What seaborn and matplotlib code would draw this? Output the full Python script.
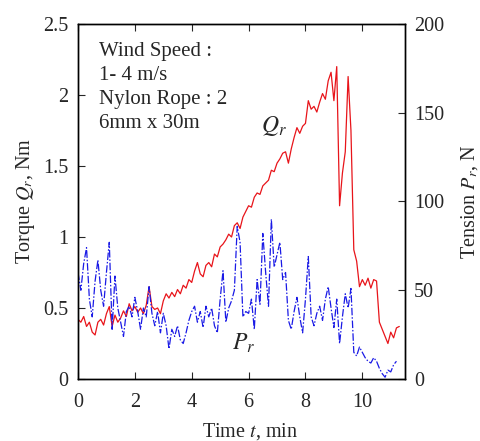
import numpy as np
import pandas as pd
import matplotlib
matplotlib.use('Agg')
import matplotlib.pyplot as plt
import seaborn as sns

# Q_r torque (Nm), sampled every 0.1 min
t_q = np.round(np.arange(0, 11.35, 0.1), 1)
torque = [0.42, 0.40, 0.44, 0.37, 0.40, 0.33, 0.31, 0.40, 0.42, 0.38,
          0.46, 0.51, 0.37, 0.45, 0.40, 0.43, 0.48, 0.44, 0.53, 0.48,
          0.51, 0.47, 0.50, 0.46, 0.52, 0.65, 0.51, 0.49, 0.50, 0.46,
          0.55, 0.60, 0.57, 0.61, 0.58, 0.63, 0.60, 0.66, 0.64, 0.70,
          0.68, 0.76, 0.82, 0.74, 0.72, 0.80, 0.82, 0.79, 0.88, 0.86,
          0.93, 0.95, 0.98, 1.02, 1.00, 1.08, 1.10, 1.06, 1.14, 1.18,
          1.22, 1.21, 1.28, 1.31, 1.30, 1.36, 1.38, 1.40, 1.47, 1.46,
          1.52, 1.55, 1.59, 1.60, 1.52, 1.62, 1.70, 1.77, 1.73, 1.78,
          1.80, 1.96, 1.90, 1.92, 1.88, 1.95, 2.01, 1.97, 2.10, 2.16,
          1.96, 2.20, 1.22, 1.45, 1.60, 2.13, 1.75, 0.91, 0.83, 0.65,
          0.70, 0.66, 0.71, 0.64, 0.70, 0.69, 0.40, 0.35, 0.30, 0.25,
          0.33, 0.29, 0.36, 0.37]

# P_r tension (N), sampled every 0.1 min
t_p = np.round(np.arange(0, 11.25, 0.1), 1)
tension = [60, 50, 65, 74, 45, 35, 55, 67, 50, 41,
           60, 77, 28, 58, 40, 32, 24, 38, 41, 35,
           46, 38, 28, 40, 35, 52, 37, 30, 38, 26,
           37, 30, 17, 28, 24, 30, 22, 20, 26, 33,
           38, 41, 32, 38, 29, 41, 35, 40, 30, 26,
           45, 61, 32, 40, 44, 50, 86, 77, 35, 38,
           37, 45, 28, 56, 42, 82, 60, 41, 90, 63,
           70, 77, 56, 60, 33, 28, 38, 46, 35, 26,
           45, 69, 35, 30, 37, 41, 33, 45, 52, 40,
           29, 45, 20, 35, 48, 40, 51, 15, 13, 18,
           15, 12, 10, 9, 12, 10, 6, 3, 1, 5,
           4, 8, 10]

df_q = pd.DataFrame({'t': t_q, 'Q': torque})
df_p = pd.DataFrame({'t': t_p, 'P': tension})

sns.set_style('ticks')
plt.rcParams['font.family'] = ['Liberation Serif', 'DejaVu Serif']
plt.rcParams['mathtext.fontset'] = 'stix'
plt.rcParams['font.size'] = 14

fig = plt.figure(figsize=(4.8, 4.41), dpi=100)
ax = fig.add_axes([0.1625, 0.1406, 0.6812, 0.805])
ax2 = ax.twinx()

sns.lineplot(data=df_q, x='t', y='Q', ax=ax, color='#e8141a', linewidth=0.9)
sns.lineplot(data=df_p, x='t', y='P', ax=ax2, color='#1a1ae6', linewidth=0.9,
             linestyle=(0, (6, 1.5, 1.2, 1.5)))

ax.set_xlim(0, 11.5)
ax.set_ylim(0, 2.5)
ax2.set_ylim(0, 200)
ax.set_xticks([0, 2, 4, 6, 8, 10])
ax.set_yticks([0, 0.5, 1, 1.5, 2, 2.5])
ax.set_yticklabels(['0', '0.5', '1', '1.5', '2', '2.5'])
ax2.set_yticks([0, 50, 100, 150, 200])

ax.tick_params(axis='x', direction='in', length=5, width=0.8, top=True,
               labelsize=14.5, pad=10)
ax.tick_params(axis='y', direction='in', length=5, width=0.8,
               labelsize=14.5, pad=7)
ax2.tick_params(direction='in', length=5, width=0.8, labelsize=14.5, pad=6.5)
for a in (ax, ax2):
    for s in a.spines.values():
        s.set_visible(True)
        s.set_linewidth(1.0)
        s.set_color('black')

ax.set_xlabel('Time $t$, min', fontsize=14.5)
ax.set_ylabel('Torque $Q_r$, Nm', fontsize=14.5)
ax2.set_ylabel('Tension $P_r$, N', fontsize=14.5)
ax.xaxis.set_label_coords(0.526, -0.118)
ax.yaxis.set_label_coords(-0.125, 0.5)
ax2.yaxis.set_label_coords(1.166, 0.5)

ax.text(0.74, 2.37, 'Wind Speed :\n1- 4 m/s\nNylon Rope : 2\n6mm x 30m',
        fontsize=15, va='top', ha='left', linespacing=1.35)
ax.text(6.45, 1.78, '$Q_r$', fontsize=17, ha='left', va='center')
ax.text(5.4, 0.25, '$P_r$', fontsize=17, ha='left', va='center')

fig.savefig('out.png', dpi=100)
